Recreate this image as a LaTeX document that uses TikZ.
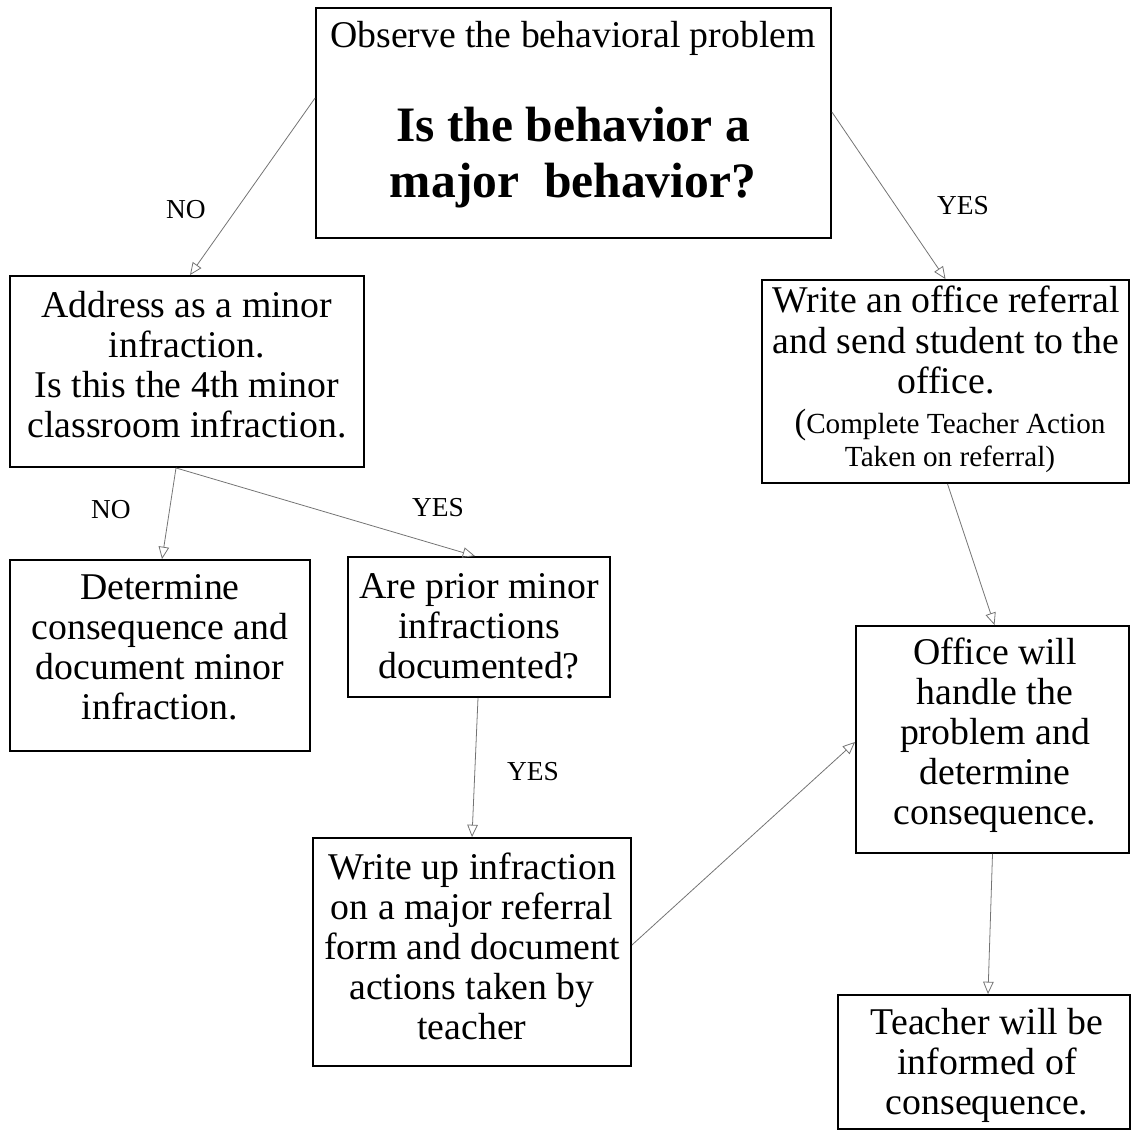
\documentclass[tikz,border=0pt]{standalone}
\usepackage{fontspec}
\setmainfont{Liberation Serif}
\usetikzlibrary{arrows.meta,calc}
\tikzset{
  box/.style={draw=black,line width=1.1pt,rectangle,inner sep=0pt},
  txt/.style={align=center,inner sep=0pt,font=\fontsize{21.5}{22.8}\selectfont},
  smalltxt/.style={align=center,inner sep=0pt,font=\fontsize{16.6}{18.8}\selectfont},
  bigtxt/.style={align=center,inner sep=0pt,font=\bfseries\fontsize{28.2}{31.9}\selectfont},
  lbl/.style={inner sep=0pt,font=\fontsize{15.6}{18}\selectfont},
  conn/.style={draw=black!55,line width=0.45pt,-{Triangle[open,length=7pt,width=6pt]}}
}
\begin{document}
\begin{tikzpicture}[x=0.02cm,y=-0.02cm]
\useasboundingbox (0,0) rectangle (1132,1133);
% boxes
\node[box,minimum width=10.30cm,minimum height=4.60cm] (top) at (573.5,123) {};
\node[box,minimum width=7.08cm,minimum height=3.82cm] (addr) at (187,371.5) {};
\node[box,minimum width=7.34cm,minimum height=4.06cm] (refer) at (945.5,381.5) {};
\node[box,minimum width=6.00cm,minimum height=3.82cm] (determ) at (160,655.5) {};
\node[box,minimum width=5.24cm,minimum height=2.80cm] (prior) at (479,627) {};
\node[box,minimum width=6.36cm,minimum height=4.56cm] (writeup) at (472,952) {};
\node[box,minimum width=5.46cm,minimum height=4.54cm] (office) at (992.5,739.5) {};
\node[box,minimum width=5.84cm,minimum height=2.68cm] (teacher) at (984,1062) {};
% texts
\node[txt] (topa) at (573,38) {Observe the behavioral problem};
\node[bigtxt] (topb) at (573,158) {Is the behavior a\\major\ \ behavior?};
\node[txt] (addrt) at (187,364.5) {Address as a minor\\infraction.\\Is this the 4th minor\\classroom infraction.};
\node[txt] (refert) at (946,340) {Write an office referral\\and send student to the\\office.};
\node[smalltxt] (refers) at (950,440.5) {{\fontsize{20}{18.8}\selectfont(}Complete Teacher Action\\Taken on referral)};
\node[txt] (determt) at (160,647.5) {Determine\\consequence and\\document minor\\infraction.};
\node[txt] (priort) at (479,626) {Are prior minor\\infractions\\documented?};
\node[txt] (writeupt) at (472,946.5) {Write up infraction\\on a major referral\\form and document\\actions taken by\\teacher};
\node[txt] (officet) at (995,735) {Office will\\handle the\\problem and\\determine\\consequence.};
\node[txt] (teachert) at (987,1065) {Teacher will be\\informed of\\consequence.};
% labels
\node[lbl] (no1) at (186,210) {NO};
\node[lbl] (yes1) at (963,206) {YES};
\node[lbl] (no2) at (111,510) {NO};
\node[lbl] (yes2) at (438,508) {YES};
\node[lbl] (yes3) at (533,772) {YES};
% connectors
\draw[conn] ($(top.west)+(0,-25)$) -- ($(addr.north)+(3,0)$);
\draw[conn] ($(top.east)+(0,-11)$) -- (refer.north);
\draw[conn] ($(addr.south)+(-11,0)$) -- ($(determ.north)+(2,0)$);
\draw[conn] ($(addr.south)+(-11,0)$) -- ($(prior.north)+(-4,0)$);
\draw[conn] ($(prior.south)+(-1,0)$) -- (writeup.north);
\draw[conn] ($(refer.south)+(2,0)$) -- ($(office.north)+(2,0)$);
\draw[conn] ($(writeup.east)+(0,-7)$) -- ($(office.west)+(0,2.5)$);
\draw[conn] (office.south) -- ($(teacher.north)+(4,0)$);
\end{tikzpicture}
\end{document}
